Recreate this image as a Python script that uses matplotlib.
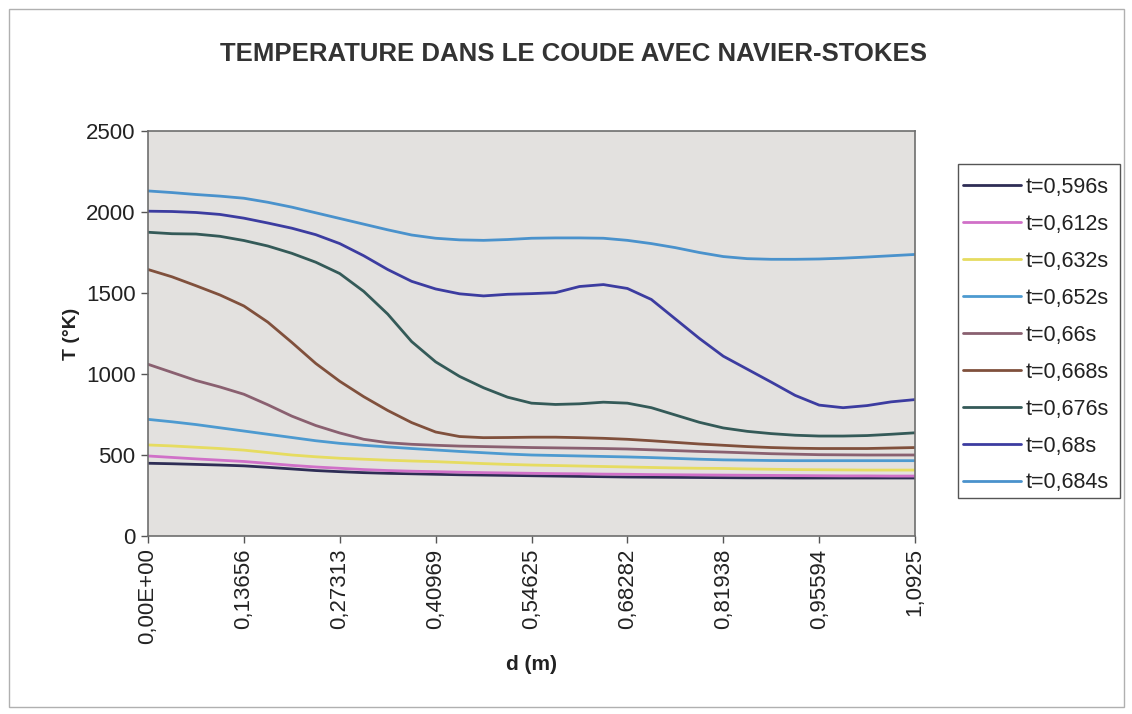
import matplotlib
matplotlib.use("Agg")
import matplotlib.pyplot as plt
from matplotlib.patches import Rectangle

plt.rcParams['font.family'] = ['Liberation Sans', 'DejaVu Sans']

# Distance along the bend (m)
d = [0.0, 0.03414, 0.06828, 0.10242, 0.13656, 0.17070, 0.20485, 0.23899,
     0.27313, 0.30727, 0.34141, 0.37555, 0.40969, 0.44383, 0.47797, 0.51211,
     0.54625, 0.58039, 0.61454, 0.64868, 0.68282, 0.71696, 0.75110, 0.78524,
     0.81938, 0.85352, 0.88766, 0.92180, 0.95594, 0.99008, 1.02422, 1.05836,
     1.0925]

tick_pos = [0.0, 0.13656, 0.27313, 0.40969, 0.54625, 0.68282, 0.81938,
            0.95594, 1.0925]
tick_labels = ["0,00E+00", "0,13656", "0,27313", "0,40969", "0,54625",
               "0,68282", "0,81938", "0,95594", "1,0925"]

# Temperature (K) along the bend at each instant
T_0596 = [449, 446, 442, 438, 433, 424, 414, 404, 397, 391, 387, 384, 381,
          378, 376, 374, 372, 370, 368, 366, 364, 363, 362, 361, 360, 359,
          359, 358, 358, 358, 358, 358, 358]
T_0612 = [494, 485, 476, 468, 460, 448, 436, 426, 418, 410, 404, 400, 397,
          394, 391, 389, 387, 385, 384, 382, 381, 379, 378, 377, 376, 375,
          374, 373, 372, 371, 371, 370, 370]
T_0632 = [562, 556, 548, 540, 530, 515, 500, 489, 480, 474, 468, 463, 459,
          453, 447, 442, 438, 435, 432, 429, 426, 423, 420, 418, 417, 414,
          412, 410, 409, 408, 407, 407, 407]
T_0652 = [720, 705, 688, 668, 648, 628, 608, 588, 572, 560, 550, 540, 531,
          522, 514, 506, 500, 497, 494, 491, 488, 484, 479, 474, 470, 468,
          466, 465, 465, 465, 465, 465, 465]
T_0660 = [1060, 1010, 960, 920, 875, 810, 740, 682, 636, 597, 576, 566, 560,
          555, 552, 549, 546, 544, 542, 540, 537, 532, 527, 522, 518, 513,
          508, 505, 502, 501, 500, 500, 500]
T_0668 = [1645, 1600, 1545, 1488, 1420, 1320, 1195, 1065, 955, 860, 775, 700,
          642, 614, 607, 608, 610, 610, 607, 603, 597, 588, 578, 568, 560,
          552, 546, 542, 540, 540, 540, 543, 546]
T_0676 = [1875, 1866, 1864, 1850, 1824, 1790, 1745, 1690, 1620, 1510, 1370,
          1200, 1075, 985, 915, 857, 820, 812, 816, 826, 820, 792, 747, 702,
          667, 646, 632, 622, 617, 617, 620, 628, 637]
T_0680 = [2005, 2003, 1997, 1985, 1962, 1932, 1900, 1860, 1805, 1730, 1645,
          1572, 1525, 1495, 1482, 1492, 1496, 1502, 1540, 1552, 1528, 1460,
          1340, 1220, 1110, 1030, 950, 868, 808, 792, 805, 828, 842]
T_0684 = [2130, 2120, 2108, 2098, 2085, 2060, 2030, 1995, 1960, 1925, 1890,
          1858, 1838, 1828, 1825, 1830, 1838, 1840, 1840, 1838, 1825, 1805,
          1780, 1750, 1725, 1712, 1708, 1708, 1710, 1715, 1722, 1730, 1738]

labels = ["t=0,596s", "t=0,612s", "t=0,632s", "t=0,652s", "t=0,66s",
          "t=0,668s", "t=0,676s", "t=0,68s", "t=0,684s"]
series = [T_0596, T_0612, T_0632, T_0652, T_0660, T_0668, T_0676, T_0680,
          T_0684]
colors = ['#2e2d55', '#d070c8', '#e6dc60', '#4d9ad0', '#8a6070',
          '#80503c', '#345a58', '#3c3ca0', '#4a92cc']

W, H = 1132, 714
fig = plt.figure(figsize=(W / 100, H / 100), dpi=100)
fig.patch.set_facecolor('white')

# Outer chart frame
fig.add_artist(Rectangle((9 / W, 1 - 707 / H), 1115 / W, 698 / H,
                         transform=fig.transFigure, fill=False,
                         edgecolor='#b0b0b0', linewidth=1.0))

ax = fig.add_axes([148 / W, 1 - 536 / H, 767 / W, 405 / H])
ax.set_facecolor('#e3e1df')

for y, lab, c in zip(series, labels, colors):
    ax.plot(d, y, color=c, linewidth=2.0, label=lab,
            solid_joinstyle='round', solid_capstyle='round')

ax.set_xlim(0, 1.0925)
ax.set_ylim(0, 2500)
ax.set_yticks([0, 500, 1000, 1500, 2000, 2500])
ax.set_xticks(tick_pos)
ax.set_xticklabels(tick_labels, rotation=90)
ax.tick_params(axis='both', direction='out', length=5, width=1,
               color='#555555', labelsize=16, labelcolor='#222222', pad=4)

for sp in ax.spines.values():
    sp.set_color('#6e6e6e')
    sp.set_linewidth(1.2)

ax.set_xlabel("d (m)", fontsize=15, fontweight='bold', color='#222222',
              labelpad=8)
ax.set_ylabel("T (°K)", fontsize=14, fontweight='bold', color='#222222',
              labelpad=4)

fig.text(573 / W, 1 - 54 / H,
         "TEMPERATURE DANS LE COUDE AVEC NAVIER-STOKES",
         ha='center', va='center', fontsize=18.5, fontweight='bold',
         color='#333333')

# Legend box
fig.add_artist(Rectangle((958 / W, 1 - 498 / H), 162 / W, 334 / H,
                         transform=fig.transFigure, facecolor='white',
                         edgecolor='#555555', linewidth=1.0, zorder=2))

leg = fig.legend(loc='upper left', bbox_to_anchor=(963 / W, 1 - 177 / H),
                 fontsize=15.5, frameon=False, handlelength=2.7,
                 handletextpad=0.2, labelspacing=0.74, borderpad=0,
                 borderaxespad=0)
leg.set_zorder(3)
for txt in leg.get_texts():
    txt.set_color('#222222')

fig.savefig("out.png", dpi=100, facecolor='white')
